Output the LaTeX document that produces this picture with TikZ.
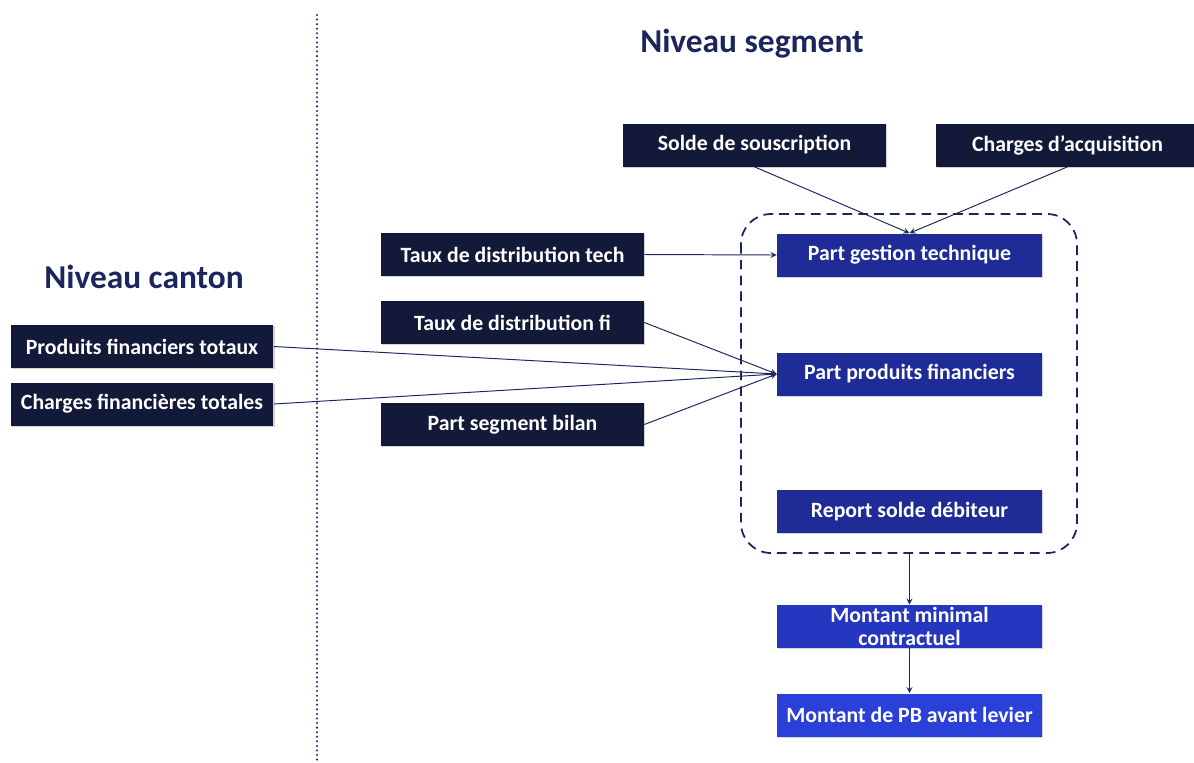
\documentclass[tikz,border=0pt]{standalone}
\usepackage{fontspec}
\setmainfont{Carlito}
\usepackage{tikz}
\usetikzlibrary{arrows}
\usetikzlibrary{shadows}
\usetikzlibrary{positioning}
\definecolor{navy}{HTML}{131938}
\definecolor{headblue}{HTML}{1B255E}
\definecolor{blueA}{HTML}{1F2B96}
\definecolor{blueB}{HTML}{2536C0}
\definecolor{blueC}{HTML}{2A40D8}
\tikzset{box/.style = {text = white, font = \bfseries\fontsize{12.4}{12.8}\selectfont, align = center,
    minimum width = 5.3cm, minimum height = 0.86cm, inner sep = 1pt,
    drop shadow = {shadow xshift = 0.6pt, shadow yshift = -0.8pt, opacity = 0.35}}}
\tikzset{darkbox/.style = {box, fill = navy, minimum width = 5.26cm}}
\tikzset{bluebox/.style = {box, fill = #1}}
\tikzset{conn/.style = {draw = headblue, line width = 0.55pt, -stealth}}
\tikzset{head/.style = {text = headblue, font = \bfseries\fontsize{19}{21}\selectfont}}

\begin{document}
\begin{tikzpicture}[x=0.02cm, y=-0.02cm]
    \useasboundingbox (0, 0) rectangle (1194, 762);

    \draw [headblue, line width = 1.3pt, line cap = round, dash pattern = on 0pt off 2.6pt] (317, 15) -- (317, 760);
    \node [head] (canton) at (144, 277) {Niveau canton};
    \node [head] (segment) at (752, 44) {Niveau segment};

    \node [darkbox] (solde) at (754.5, 145) {Solde de souscription};
    \node [darkbox] (acqui) at (1067.5, 145) {Charges d’acquisition};
    \node [darkbox] (tauxtech) at (512.5, 254.5) {Taux de distribution tech};
    \node [darkbox] (tauxfi) at (512.5, 322.5) {Taux de distribution fi};
    \node [darkbox] (partbilan) at (512.5, 424.5) {Part segment bilan};
    \node [darkbox] (prodfin) at (142, 346.5) {Produits financiers totaux};
    \node [darkbox] (chfin) at (142, 404) {Charges financières totales};

    \node [bluebox = blueA] (gestion) at (909.5, 255) {Part gestion technique};
    \node [bluebox = blueA] (partfin) at (909.5, 374) {Part produits financiers};
    \node [bluebox = blueA] (report) at (909.5, 511.5) {Report solde débiteur};
    \node [bluebox = blueB] (minimal) at (909.5, 626.5) {Montant minimal\\contractuel};
    \node [bluebox = blueC] (avant) at (909.5, 715) {Montant de PB avant levier};

    \draw [headblue, line width = 1pt, dash pattern = on 5.5pt off 3.5pt, rounded corners = 0.6cm]
      (741, 214) rectangle (1077, 553);
    \coordinate (cadre) at (909.5, 553);

    \draw [conn] (solde.south) -- (gestion.north);
    \draw [conn] (acqui.south) -- (gestion.north);
    \draw [conn] (tauxtech.east) -- (gestion.west);
    \draw [conn] (tauxfi.east) -- (partfin.west);
    \draw [conn] (partbilan.east) -- (partfin.west);
    \draw [conn] (prodfin.east) -- (partfin.west);
    \draw [conn] (chfin.east) -- (partfin.west);
    \draw [conn] (cadre) -- (minimal.north);
    \draw [conn] (minimal.south) -- (avant.north);
\end{tikzpicture}
\end{document}
